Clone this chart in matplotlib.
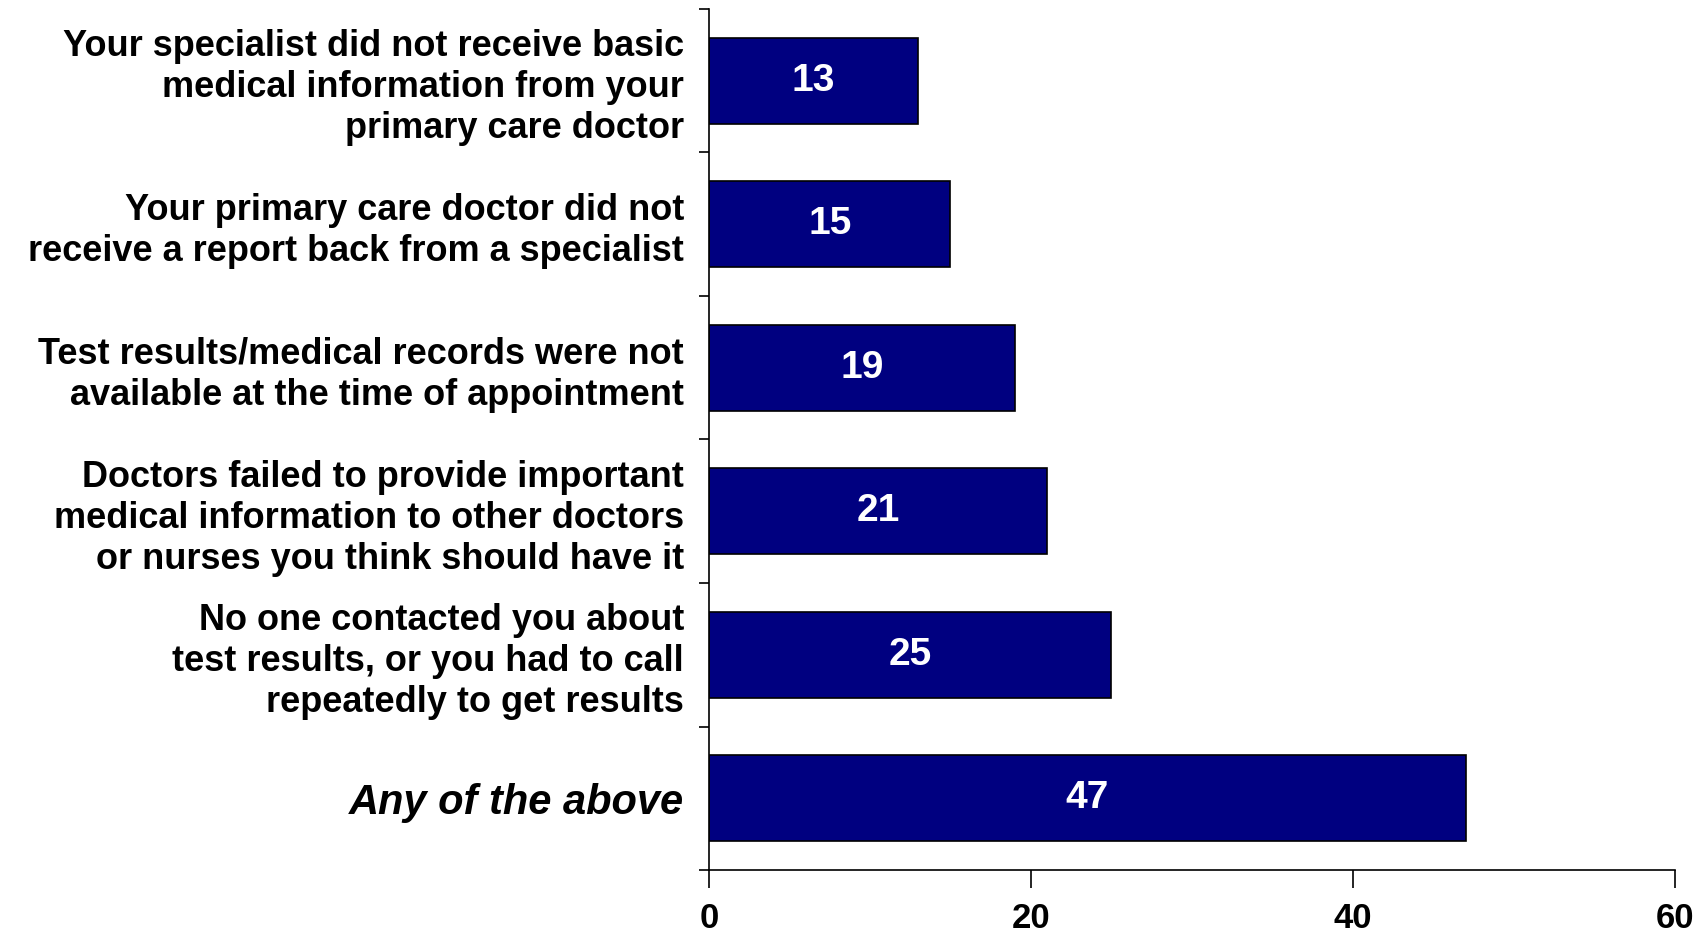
import numpy as np
import matplotlib.pyplot as plt
from matplotlib.ticker import FixedLocator

# Survey items (top to bottom) and percentages
labels = [
    "Your specialist did not receive basic\nmedical information from your\nprimary care doctor",
    "Your primary care doctor did not\nreceive a report back from a specialist",
    "Test results/medical records were not\navailable at the time of appointment",
    "Doctors failed to provide important\nmedical information to other doctors\nor nurses you think should have it",
    "No one contacted you about\ntest results, or you had to call\nrepeatedly to get results",
    "Any of the above",
]
values = [13, 15, 19, 21, 25, 47]
xticks = [0, 20, 40, 60]

plt.rcParams['font.family'] = ['Liberation Sans', 'DejaVu Sans']

fig = plt.figure(figsize=(17.05, 9.36), dpi=100)
ax = fig.add_axes([0.4158, 0.0705, 0.5666, 0.9199])

y = np.arange(len(values))
bars = ax.barh(y, values, height=0.6, color='#000080', edgecolor='black', linewidth=1.2)
ax.set_ylim(len(values) - 0.5, -0.5)
ax.set_xlim(0, 60)

for b, v in zip(bars, values):
    ax.text(v / 2, b.get_y() + b.get_height() / 2, str(v), ha='center', va='center',
            color='white', fontsize=28, fontweight='bold')

ax.set_yticks(y)
ax.set_yticklabels(labels, fontsize=26, fontweight='bold', linespacing=1.22)
last = ax.get_yticklabels()[-1]
last.set_fontstyle('italic')
last.set_fontsize(30)
ax.tick_params(axis='y', which='major', length=0, pad=18)
ax.yaxis.set_minor_locator(FixedLocator(np.arange(-0.5, len(values), 1.0)))
ax.tick_params(axis='y', which='minor', length=7, width=1.2)

ax.set_xticks(xticks)
ax.set_xticklabels([str(t) for t in xticks], fontsize=25, fontweight='bold')
ax.tick_params(axis='x', length=13, width=1.2, pad=10)

for s in ['top', 'right']:
    ax.spines[s].set_visible(False)
for s in ['left', 'bottom']:
    ax.spines[s].set_linewidth(1.2)

fig.savefig('out.png', dpi=100)
